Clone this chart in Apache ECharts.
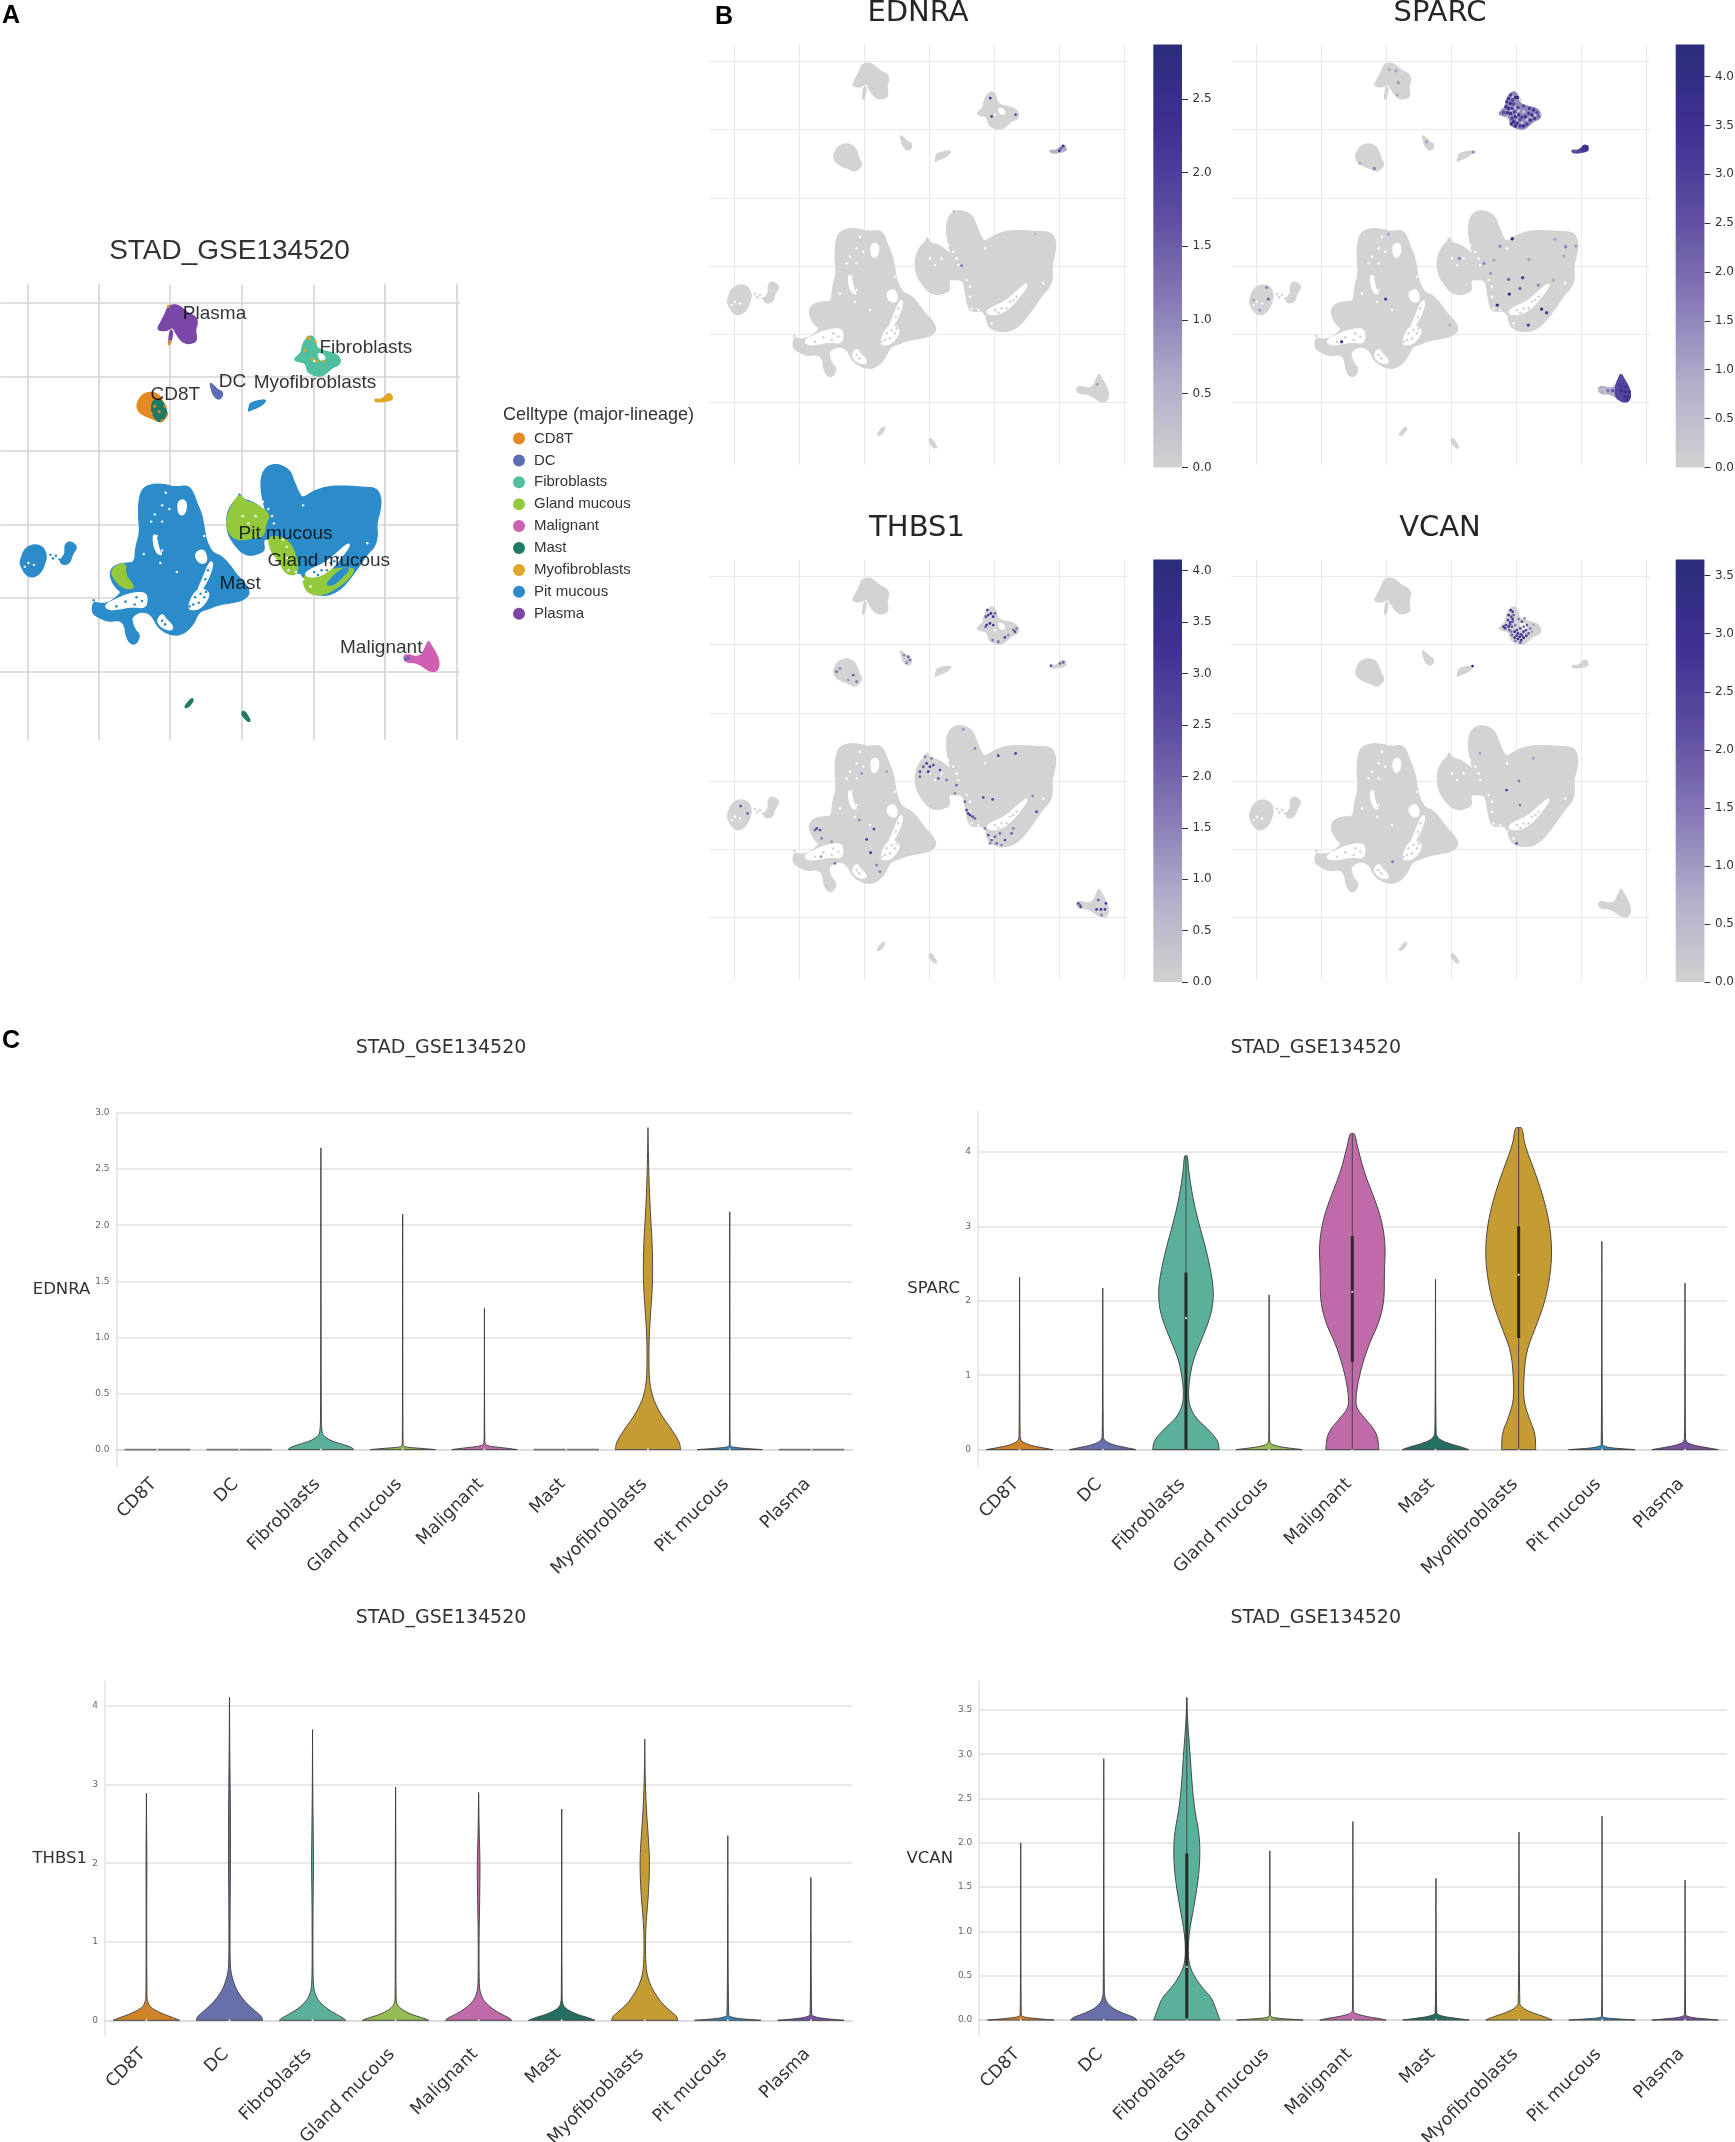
<!DOCTYPE html>
<html>
<head>
<meta charset="utf-8">
<title>STAD_GSE134520</title>
<script src="https://cdn.jsdelivr.net/npm/echarts@6/dist/echarts.min.js"></script>
<style>
html,body{margin:0;padding:0;background:#fff}
#chart{width:1735px;height:2142px}
</style>
</head>
<body>
<div id="chart"></div>
<script>
const celltypes = ['CD8T','DC','Fibroblasts','Gland mucous','Malignant','Mast','Myofibroblasts','Pit mucous','Plasma'];
const umapColors = ['#e58a22','#5e6db3','#4fbf9f','#94c83d','#cf5fb0','#1f7a65','#e0a526','#2b8cc9','#7a47a8'];
const violinColors = ['#d08328','#6870ab','#5bb09b','#97bb55','#bf6aa9','#256f62','#c59c33','#3589bd','#7a52a0'];

// umap outlines, in umap reading units (gridlines below)
const umapXGrid = [103,298,492,688,883,1078,1273];
const umapYGrid = [184,389,594,798,1001,1207];
const plasmaShape = [[487,192],[508,188],[525,198],[540,212],[562,222],[567,240],[560,258],[565,285],[555,295],[535,297],[518,285],[505,262],[498,250],[480,262],[455,258],[468,235],[478,215]];
const plasmaTail = [[492,258],[499,262],[496,285],[491,298],[487,295]];
const fibroShape = [[865,280],[877,274],[888,285],[892,310],[915,318],[935,322],[950,330],[958,345],[950,358],[935,362],[922,375],[905,388],[885,385],[866,375],[862,350],[845,347],[830,342],[838,332],[850,322],[853,300]];
const dcShape = [[600,405],[610,412],[622,425],[635,430],[634,445],[622,452],[610,440],[605,425]];
const blobShape = [[710,462],[730,455],[755,452],[745,465],[728,475],[712,480],[705,485],[708,472]];
const myofibShape = [[1050,450],[1065,452],[1078,445],[1085,435],[1095,437],[1100,450],[1088,455],[1070,458],[1052,458]];
const cd8Shape = [[415,438],[440,430],[462,438],[473,460],[478,480],[487,490],[478,505],[465,515],[445,505],[425,498],[405,485],[400,465]];
const leftBody = [[420,695],[450,685],[480,688],[505,695],[540,690],[555,710],[565,740],[578,770],[585,810],[590,840],[603,870],[615,880],[630,885],[650,905],[675,940],[700,965],[710,990],[690,1008],[660,1015],[625,1020],[595,1032],[570,1040],[555,1075],[530,1100],[505,1106],[480,1098],[458,1082],[445,1055],[430,1042],[410,1040],[395,1048],[385,1060],[395,1090],[410,1105],[400,1128],[385,1130],[372,1110],[368,1075],[350,1062],[325,1068],[295,1055],[278,1042],[282,1012],[300,1018],[325,1015],[345,1000],[360,985],[345,975],[330,950],[328,925],[345,910],[370,905],[395,905],[398,860],[410,820],[405,770],[408,720]];
const rightBody = [[680,710],[690,728],[715,735],[735,748],[755,765],[748,745],[738,690],[745,650],[765,632],[795,633],[820,650],[830,680],[845,715],[855,725],[885,705],[925,692],[980,692],[1020,695],[1055,697],[1068,725],[1065,760],[1055,795],[1058,830],[1050,860],[1030,880],[1010,910],[985,945],[960,975],[930,993],[900,995],[870,985],[860,960],[850,930],[820,935],[805,925],[795,870],[790,840],[760,838],[745,840],[750,870],[735,878],[710,885],[685,875],[665,850],[650,825],[645,790],[650,760],[665,735],[678,725]];
const islandShape = [[95,865],[120,853],[145,860],[155,885],[150,905],[140,930],[120,945],[100,940],[85,915],[82,900]];
const isletShape = [[205,855],[215,845],[228,850],[238,862],[225,880],[218,905],[200,910],[190,900],[205,880],[205,870]];
const malignantShape = [[1190,1135],[1197,1120],[1205,1135],[1220,1160],[1227,1185],[1220,1205],[1200,1205],[1180,1190],[1160,1180],[1135,1180],[1128,1165],[1140,1158],[1160,1165],[1180,1160]];
const malignantCore = [[1190,1135],[1197,1120],[1205,1135],[1220,1160],[1227,1185],[1220,1205],[1200,1205],[1180,1190],[1180,1160]];
const sliverA = [[530,1305],[545,1285],[553,1280],[555,1288],[540,1306]];
const sliverB = [[687,1318],[695,1315],[712,1342],[705,1345],[690,1330]];

const glandLobe = [[682,713],[692,732],[728,742],[765,770],[753,794],[747,832],[710,837],[674,842],[649,818],[645,785],[661,742]];
const glandStrip = [[759,828],[808,837],[832,871],[844,937],[808,937],[789,899],[765,871]];
const glandCrescent = [[856,942],[881,928],[978,918],[997,923],[972,956],[929,985],[899,995],[869,988],[856,966]];
const glandLeft = [[328,928],[350,909],[371,907],[369,937],[387,961],[393,975],[369,976],[347,960]];
const pitStreak = [[917,966],[936,942],[966,918],[984,919],[954,952],[936,966]];
const mastPatch = [[448,450],[472,455],[485,488],[466,517],[448,502],[439,474]];

const holes = [
  [[512,735],[530,728],[538,745],[530,772],[515,770]],
  [[558,880],[580,865],[592,885],[590,905],[570,905]],
  [[445,830],[452,825],[462,870],[470,882],[458,880],[448,860]],
  [[312,1022],[345,1005],[380,990],[420,985],[430,1000],[425,1030],[390,1025],[355,1032],[325,1035]],
  [[540,1030],[555,990],[575,975],[598,985],[595,1005],[575,1030],[555,1035]],
  [[600,900],[610,905],[598,945],[575,985],[565,985],[580,950]],
  [[455,1065],[470,1045],[480,1060],[500,1080],[495,1092],[470,1085]],
  [[858,935],[880,920],[915,905],[950,875],[978,850],[982,858],[958,890],[935,918],[905,940],[872,945]],
  [[895,322],[912,328],[915,342],[900,342]]
];
const whiteSpecks = [[470,745],[490,755],[450,770],[480,710],[455,830],[470,870],[420,880],[690,775],[705,795],[725,775],[745,735],[760,755],[770,775],[775,795],[855,745],[800,840],[810,860],[815,925],[120,910],[95,915],[105,905],[885,345],[475,1060],[490,1075],[600,930],[470,790],[810,890],[835,930],[855,950],[875,970],[1030,850],[760,860],[650,850],[680,880],[420,1020],[400,1010],[465,905],[510,930],[585,830],[440,790]];
const fillSpecks = [[165,882],[172,892],[180,885],[190,895],[200,905],[283,1008],[885,930],[905,925],[930,905],[950,890],[920,925],[895,938],[940,900],[560,1000],[575,990],[585,1000],[570,1015],[555,1020],[590,985],[545,1025],[400,1000],[395,1020],[370,1012],[345,1025],[415,1010],[478,1075],[470,1065],[588,950],[595,925]];

// extra marks only seen in the cell type view
const orangeOnFibro = [[868,278],[887,290],[880,340],[911,345],[860,315],[872,283],[892,345]];
const orangeOnPlasma = [[487,192],[491,290],[489,298]];
const orangeOnMast = [[450,470],[462,485],[470,510],[440,490],[478,470]];
const dcOnMalignant = [[1142,1168],[1135,1172]];

// cell type labels on panel A
const clusterLabels = [['Plasma',613,214],['Fibroblasts',1026,308],['DC',662,403],['Myofibroblasts',887,406],['CD8T',506,439],['Pit mucous',807,823],['Gland mucous',925,900],['Mast',683,963],['Malignant',1068,1141]];

// gene expression dots: x, y, value
const ednraDots = [[871,294,2.5],[875,349,2],[947,344,1.7],[1090,438,2.6],[1078,452,2.4],[1084,445,1.5],[785,797,1.2],[1192,1153,.8],[1060,454,.5],[1095,448,.7],[1070,455,.4],[1006,702,.4],[762,634,.3]];
const sparcDots = [[529,248,1.2],[502,208,.8],[522,212,1],[526,285,.8],[457,505,1.5],[414,490,.8],[614,425,1],[754,456,1.5],[499,702,1],[871,716,4],[834,738,1.5],[999,718,1],[1031,740,1.5],[1062,738,1.2],[1026,768,1],[921,778,1],[712,775,1.5],[786,790,1.5],[816,780,1],[806,820,1.2],[860,838,2],[902,833,3],[949,855,1.5],[894,865,2],[862,882,4],[826,915,4],[959,927,4],[974,938,3],[919,975,3],[491,897,3],[684,975,.8],[359,1025,3],[134,862,1.5],[139,897,2],[94,900,1],[114,930,1],[994,840,1],
  [880,292,4.2],[887,292,4.2],[866,285,3],[860,295,3.4],[872,300,3],[855,305,3.2],[865,310,3.6],[875,312,2.8],[852,320,3.4],[860,325,3.8],[870,325,3],[845,337,2.6],[856,338,3.4],[866,340,3.6],[878,335,2.8],[888,322,3],[905,318,2.6],[922,325,3.2],[935,330,3.4],[945,338,2.8],[950,348,2.4],[930,345,3.6],[920,340,3],[938,355,3.2],[925,360,3.8],[910,350,3.6],[900,352,3],[890,345,3.4],[880,350,3.8],[870,355,3],[875,365,4],[885,370,3.6],[895,378,3.2],[905,378,3.6],[915,372,3],[868,372,3.8],[880,378,4],[893,360,2.6],
  [1087,442,3.6],[1093,447,3.8],[1082,450,3.4],[1095,440,3.6],[1072,453,2.8],[1060,454,2.4],
  [1200,1135,2.6],[1205,1148,3],[1198,1158,3.2],[1212,1160,3.6],[1222,1175,3.8],[1210,1175,3.4],[1198,1172,3.6],[1218,1190,4],[1208,1190,3.8],[1214,1200,3.6],[1188,1170,2.8],[1172,1172,2.4],[1158,1172,1.8]];
const sparcLightDots = [[872,290,.2],[895,300,.1],[868,330,.2],[880,322,.3],[890,332,.2],[905,335,.1],[925,352,.2],[915,358,.3],[888,360,.2],[900,368,.2],[940,345,.2],[955,345,.2],[855,350,.2],[1145,1168,.3],[1150,1175,.2],[1135,1170,.4]];
const thbs1Dots = [[862,285,3],[873,295,3.5],[880,305,3.2],[858,305,2.5],[870,325,3.5],[880,330,3],[860,330,3],[865,300,2.8],[885,295,2],[857,335,2],[945,350,2.5],[940,345,2],[915,367,2.8],[895,380,2],[878,375,1.8],[925,360,1.5],[950,340,1.5],[612,420,1.5],[625,425,2.2],[630,435,2],[620,443,1.5],[1053,452,2],[1080,445,2],[1090,442,2.2],[410,470,2],[420,460,1.5],[460,480,2.2],[470,500,1.8],[445,495,1.2],[680,745,2.8],[690,755,3],[670,755,2.2],[660,770,2.5],[685,770,3.2],[700,750,2.8],[720,765,2.5],[715,790,2.2],[740,795,1.8],[770,810,2],[765,835,1.5],[660,785,2],[675,725,1.6],[695,730,1.6],[800,885,2.8],[810,900,3],[818,905,2.6],[805,895,3],[825,910,2],[795,860,2],[850,847,2.5],[878,853,2.5],[895,722,2.6],[947,715,3],[825,700,1.5],[790,643,1.2],[998,843,1.5],[1010,890,2.5],[865,960,2.4],[875,975,2.2],[885,965,2],[900,955,1.8],[915,975,2.4],[935,955,2],[940,940,1.6],[870,985,1.6],[890,985,2],[855,940,1.5],[905,990,1.4],[350,940,2.6],[345,945,2],[360,945,2.4],[365,970,1.5],[405,1045,2],[522,942,3],[500,973,3],[512,1013,3.2],[478,915,1.5],[530,1050,1.6],[540,1070,1.5],[395,980,1.2],[363,1025,1.2],[485,775,1.2],[560,770,1],[122,873,2.4],[143,895,2],[1135,1165,2.6],[1142,1175,2.8],[1195,1155,2.2],[1218,1165,3],[1190,1183,3],[1203,1183,3.2],[1215,1183,3],[1205,1200,1.5],[1140,1170,2]];
const vcanDots = [[866,285,3],[872,290,2.5],[860,300,3],[868,305,2.2],[875,300,1.8],[858,315,2.6],[865,322,3],[872,320,2],[852,330,2.4],[845,335,2.8],[860,335,3],[870,335,2],[880,330,1.5],[890,312,1.5],[900,320,2],[908,310,1.2],[885,345,2.5],[895,340,2.2],[905,335,1.6],[915,330,2],[925,340,1.5],[878,350,3],[888,355,3.2],[898,358,3],[905,350,2.6],[912,345,2.4],[870,360,2],[878,368,3],[888,372,3.2],[898,375,3],[905,368,3.4],[913,362,2.8],[920,355,2],[884,362,2.5],[893,365,2.8],[900,362,2],[880,378,1.5],[895,382,2],[935,330,.8],[930,350,.8],[850,340,2.5],[862,345,2],[868,350,1.5],[872,312,2.8],[864,328,2.3],[752,453,3],[854,825,2.5],[891,798,1.5],[894,870,1.5],[884,985,2],[512,1040,1.5],[774,715,1],[934,730,1]];

const colormap = ['#d1d1d1','#b3adca','#8678b6','#5d4ca0','#3f3092','#2b2d7b'];

// violin profiles: value, half width as a share of the category band
const ednraProfiles = [
  [[0,.4],[.001,0]],
  [[0,.4],[.001,0]],
  [[0,.4],[.02,.38],[.05,.25],[.08,.12],[.12,.035],[.16,.01],[.3,.003],[2.69,0]],
  [[0,.4],[.01,.25],[.02,.06],[.03,.01],[.06,.002],[2.1,0]],
  [[0,.4],[.015,.25],[.03,.05],[.05,.01],[.08,.002],[1.26,0]],
  [[0,.4],[.001,0]],
  [[0,.4],[.05,.39],[.1,.36],[.2,.27],[.3,.17],[.4,.095],[.5,.045],[.6,.022],[.7,.012],[1,.012],[1.3,.04],[1.5,.058],[1.8,.055],[2.1,.03],[2.4,.012],[2.7,.003],[2.87,0]],
  [[0,.4],[.01,.2],[.02,.05],[.03,.008],[.06,.002],[2.12,0]],
  [[0,.4],[.001,0]]
];
const sparcProfiles = [
  [[0,.4],[.03,.25],[.06,.12],[.1,.04],[.13,.012],[.2,.004],[2.32,0]],
  [[0,.4],[.03,.27],[.06,.14],[.1,.05],[.14,.012],[.2,.004],[2.17,0]],
  [[0,.4],[.12,.385],[.26,.28],[.41,.13],[.55,.055],[.7,.027],[.94,.04],[1.22,.09],[1.51,.2],[1.8,.3],[2.04,.333],[2.28,.32],[2.66,.25],[3,.165],[3.34,.09],[3.72,.035],[3.95,.02],[3.95,0]],
  [[0,.4],[.02,.25],[.04,.12],[.07,.03],[.1,.008],[.2,.002],[2.08,0]],
  [[0,.32],[.22,.3],[.41,.16],[.55,.053],[.7,.04],[1.03,.09],[1.42,.2],[1.7,.32],[2,.385],[2.38,.385],[2.76,.4],[3.1,.35],[3.38,.265],[3.72,.145],[4.06,.065],[4.25,.03],[4.25,0]],
  [[0,.4],[.03,.33],[.07,.2],[.12,.07],[.18,.015],[.25,.004],[2.29,0]],
  [[0,.205],[.22,.2],[.41,.13],[.65,.06],[.94,.06],[1.32,.09],[1.66,.21],[2,.32],[2.38,.385],[2.71,.4],[3.05,.37],[3.38,.3],[3.72,.2],[4.1,.07],[4.33,.045],[4.33,0]],
  [[0,.4],[.01,.27],[.025,.1],[.05,.015],[.08,.004],[2.8,0]],
  [[0,.4],[.025,.27],[.05,.14],[.085,.04],[.12,.01],[.2,.003],[2.24,0]]
];
const thbs1Profiles = [
  [[0,.4],[.03,.33],[.08,.2],[.13,.1],[.18,.035],[.25,.012],[.3,.005],[1.5,.003],[2,.006],[2.5,.002],[2.89,0]],
  [[0,.4],[.05,.385],[.1,.33],[.2,.22],[.3,.14],[.4,.08],[.5,.045],[.6,.02],[.7,.01],[.9,.006],[1.5,.008],[2,.012],[2.5,.012],[3,.008],[3.5,.003],[4.11,0]],
  [[0,.4],[.03,.37],[.08,.28],[.15,.17],[.25,.07],[.35,.025],[.45,.01],[.7,.004],[1.5,.006],[2,.013],[2.4,.008],[3,.002],[3.7,0]],
  [[0,.4],[.03,.33],[.07,.2],[.12,.1],[.17,.04],[.22,.012],[.3,.004],[1.5,.004],[2.5,.002],[2.97,0]],
  [[0,.4],[.03,.37],[.08,.27],[.15,.16],[.25,.06],[.35,.02],[.45,.006],[1,.004],[1.5,.012],[2,.018],[2.4,.006],[2.9,0]],
  [[0,.4],[.03,.33],[.07,.2],[.12,.09],[.17,.03],[.22,.01],[.3,.003],[2.69,0]],
  [[0,.4],[.05,.385],[.1,.33],[.2,.22],[.3,.15],[.4,.09],[.5,.05],[.6,.025],[.7,.015],[.9,.008],[1.2,.012],[1.6,.045],[2,.06],[2.3,.045],[2.7,.018],[3.1,.005],[3.4,.001],[3.58,0]],
  [[0,.4],[.01,.26],[.025,.1],[.05,.02],[.07,.005],[2.35,0]],
  [[0,.4],[.012,.26],[.03,.1],[.055,.02],[.08,.005],[1.82,0]]
];
const vcanProfiles = [
  [[0,.4],[.01,.27],[.025,.1],[.04,.015],[.07,.003],[2,0]],
  [[0,.4],[.03,.37],[.07,.25],[.12,.13],[.18,.05],[.25,.012],[.35,.004],[2.95,0]],
  [[0,.4],[.05,.38],[.1,.36],[.25,.3],[.35,.2],[.45,.12],[.55,.06],[.65,.025],[.8,.015],[1,.03],[1.3,.09],[1.6,.14],[1.85,.16],[2.1,.15],[2.4,.09],[2.7,.06],[3,.04],[3.3,.015],[3.5,.004],[3.64,0]],
  [[0,.4],[.01,.25],[.02,.09],[.035,.015],[.06,.003],[1.91,0]],
  [[0,.4],[.02,.3],[.04,.16],[.07,.04],[.09,.01],[.14,.003],[2.24,0]],
  [[0,.4],[.015,.28],[.035,.12],[.06,.02],[.09,.004],[1.6,0]],
  [[0,.4],[.03,.33],[.07,.2],[.11,.09],[.16,.02],[.2,.005],[2.12,0]],
  [[0,.4],[.01,.24],[.02,.08],[.03,.012],[.05,.002],[2.3,0]],
  [[0,.4],[.012,.26],[.025,.1],[.045,.015],[.07,.003],[1.58,0]]
];
// category index, q1, median, q3
const sparcBoxes = [[2,0,1.77,2.38],[4,1.18,2.12,2.87],[6,1.5,2.35,3]];
const vcanBoxes = [[2,.02,.6,1.88]];

const ednraTicks = [0,.5,1,1.5,2,2.5,3];
const sparcTicks = [0,1,2,3,4];
const thbs1Ticks = [0,1,2,3,4];
const vcanTicks = [0,.5,1,1.5,2,2.5,3,3.5];
const ednraBarTicks = [0,.5,1,1.5,2,2.5];
const sparcBarTicks = [0,.5,1,1.5,2,2.5,3,3.5,4];
const thbs1BarTicks = [0,.5,1,1.5,2,2.5,3,3.5,4];
const vcanBarTicks = [0,.5,1,1.5,2,2.5,3,3.5];

const sansFont = '"DejaVu Sans"';
const arialFont = '"Liberation Sans"';
const umapWindow = {xMin:28, xMax:1283, yMin:133, yMax:1395};

var grids = [], xAxes = [], yAxes = [], series = [], titles = [];

// round off corners when drawing, the marks stay on the read values
function cutCorners(pts, closed){
  let out = pts;
  for(let k=0;k<2;k++){
    const next = closed ? [] : [out[0]];
    const n = out.length, last = closed ? n : n-1;
    for(let i=0;i<last;i++){
      const a = out[i], b = out[(i+1)%n];
      next.push([a[0]*.75+b[0]*.25, a[1]*.75+b[1]*.25]);
      next.push([a[0]*.25+b[0]*.75, a[1]*.25+b[1]*.75]);
    }
    if(!closed) next.push(out[n-1]);
    out = next;
  }
  return out;
}

function addGrid(left, top, width, height){
  // labels of the last row run off the page in the reference too, so keep the grid size
  grids.push({left, top, width, height, outerBoundsMode:'none'});
  return grids.length-1;
}

function addUmapGrid(left, top, width, height, lineColor, lineWidth){
  const g = addGrid(left, top, width, height);
  const split = {show:true, lineStyle:{color:lineColor, width:lineWidth}};
  xAxes.push({gridIndex:g, type:'value', min:umapWindow.xMin, max:umapWindow.xMax,
    axisLine:{show:false}, axisLabel:{show:false}, axisTick:{show:false, customValues:umapXGrid}, splitLine:split});
  yAxes.push({gridIndex:g, type:'value', inverse:true, min:umapWindow.yMin, max:umapWindow.yMax,
    axisLine:{show:false}, axisLabel:{show:false}, axisTick:{show:false, customValues:umapYGrid}, splitLine:split});
  return g;
}

function polygonSeries(g, name, shapes, color, z){
  return {
    type:'custom', name, xAxisIndex:g, yAxisIndex:g, silent:true, z:z||2,
    itemStyle:{color},
    data:shapes.map((s,i)=>[i]),
    renderItem(params, api){
      const pts = shapes[api.value(0)].map(p=>api.coord(p));
      return {type:'polygon', shape:{points:cutCorners(pts,true)}, style:{fill:color, stroke:color, lineWidth:1.4}};
    }
  };
}

function dotSeries(g, dots, colorOf, size, z){
  return {
    type:'scatter', xAxisIndex:g, yAxisIndex:g, silent:true, z:z||4, symbolSize:size,
    data:dots, itemStyle:{color:colorOf, opacity:1}
  };
}

// panel A
const allShapes = [plasmaShape,plasmaTail,fibroShape,dcShape,blobShape,myofibShape,cd8Shape,leftBody,rightBody,islandShape,isletShape,malignantShape,sliverA,sliverB];
const gA = addUmapGrid(0.2, 284.6, 459.8, 455.2, '#d4d4d4', 1.6);
const pickColor = n => umapColors[celltypes.indexOf(n)];
series.push(polygonSeries(gA,'Pit mucous',[leftBody,rightBody,islandShape,isletShape,blobShape],pickColor('Pit mucous'),2));
series.push(polygonSeries(gA,'Gland mucous',[glandLobe,glandStrip,glandCrescent,glandLeft],pickColor('Gland mucous'),3));
series.push(polygonSeries(gA,'streak',[pitStreak],pickColor('Pit mucous'),3));
series.push(polygonSeries(gA,'Plasma',[plasmaShape,plasmaTail],pickColor('Plasma'),3));
series.push(polygonSeries(gA,'Fibroblasts',[fibroShape],pickColor('Fibroblasts'),3));
series.push(polygonSeries(gA,'DC',[dcShape],pickColor('DC'),3));
series.push(polygonSeries(gA,'Myofibroblasts',[myofibShape],pickColor('Myofibroblasts'),3));
series.push(polygonSeries(gA,'CD8T',[cd8Shape],pickColor('CD8T'),3));
series.push(polygonSeries(gA,'Mast',[mastPatch,sliverA,sliverB],pickColor('Mast'),3));
series.push(polygonSeries(gA,'Malignant',[malignantShape],pickColor('Malignant'),3));
series.push(polygonSeries(gA,'holes',holes,'#ffffff',4));
series.push(dotSeries(gA,whiteSpecks,'#ffffff',2.4,5));
series.push(dotSeries(gA,fillSpecks,pickColor('Pit mucous'),2.6,5));
series.push(dotSeries(gA,orangeOnFibro.concat(orangeOnPlasma),pickColor('Myofibroblasts'),3,6));
series.push(dotSeries(gA,orangeOnMast,pickColor('CD8T'),3,6));
series.push(dotSeries(gA,dcOnMalignant,pickColor('DC'),3.5,6));
series.push({
  type:'scatter', xAxisIndex:gA, yAxisIndex:gA, silent:true, z:8, symbolSize:0,
  data:clusterLabels.map(l=>({value:[l[1],l[2]], name:l[0]})),
  label:{show:true, position:'inside', formatter:'{b}', color:'#000', fontFamily:arialFont, fontSize:19}
});

// panel B
function addFeaturePanel(gene, left, top, barLeft, dots, maxValue, barTicks, patches, extraDots, titleX, titleY){
  const g = addUmapGrid(left, top, 418.3, 420.7, '#e9e9e9', 1);
  const colorOf = v => echarts.color.lerp(Math.min(v/maxValue,1), colormap);
  series.push(polygonSeries(g,gene+' cells',allShapes,'#d2d4d4',2));
  series.push(polygonSeries(g,gene+' holes',holes,'#ffffff',3));
  series.push(dotSeries(g,whiteSpecks,'#ffffff',2.4,3));
  series.push(dotSeries(g,fillSpecks,'#d2d4d4',2.6,3));
  patches.forEach(p=>series.push(polygonSeries(g,gene+' patch',[p[0]],colorOf(p[1]),3)));
  if(extraDots) series.push(dotSeries(g,extraDots,p=>colorOf(p.value[2]),3,4));
  series.push(dotSeries(g,dots,p=>colorOf(p.value[2]),gene==='SPARC'?3.4:2.8,5));

  const b = addGrid(barLeft, top, 28.7, gene==='EDNRA'||gene==='SPARC'?423:422.7);
  xAxes.push({gridIndex:b, type:'category', data:[gene], show:false});
  yAxes.push({gridIndex:b, type:'value', position:'right', min:0, max:maxValue,
    axisLine:{show:false}, splitLine:{show:false},
    axisTick:{show:true, length:6, lineStyle:{color:'#333', width:1}, customValues:barTicks},
    axisLabel:{show:true, customValues:barTicks, margin:10.5, color:'#333', fontFamily:sansFont, fontSize:12, formatter:v=>v.toFixed(1)}});
  series.push({type:'bar', xAxisIndex:b, yAxisIndex:b, silent:true, barWidth:'100%', data:[maxValue],
    itemStyle:{color:new echarts.graphic.LinearGradient(0,0,0,1,[
      {offset:0,color:colormap[5]},{offset:.2,color:colormap[4]},{offset:.4,color:colormap[3]},
      {offset:.6,color:colormap[2]},{offset:.8,color:colormap[1]},{offset:1,color:colormap[0]}])}});
  titles.push({text:gene, left:titleX, top:titleY, padding:0, textAlign:'center', textVerticalAlign:'middle',
    textStyle:{fontFamily:sansFont, fontSize:29, fontWeight:'normal', color:'#262626'}});
}
addFeaturePanel('EDNRA',709.3,44.4,1153.3,ednraDots,2.87,ednraBarTicks,[[myofibShape,.5]],null,918,13);
addFeaturePanel('SPARC',1231.3,44.4,1675.7,sparcDots,4.33,sparcBarTicks,[[fibroShape,1.5],[myofibShape,3],[malignantShape,.9],[malignantCore,2.8]],sparcLightDots,1440,13);
addFeaturePanel('THBS1',709.3,559.4,1153.3,thbs1Dots,4.11,thbs1BarTicks,[],null,917,528);
addFeaturePanel('VCAN',1231.3,559.4,1675.7,vcanDots,3.64,vcanBarTicks,[],null,1440,528);

// panel C
function addViolinPanel(gene, left, top, width, height, yMin, yMax, ticks, decimals, profiles, boxes, nameGap, titleX, titleY){
  const g = addGrid(left, top, width, height);
  const line = {show:true, lineStyle:{color:'#dddddd', width:2}};
  xAxes.push({gridIndex:g, type:'category', data:celltypes, axisLine:line, axisTick:{show:false},
    axisLabel:{rotate:45, interval:0, margin:12, padding:[0,5,0,0], color:'#333', fontFamily:sansFont, fontSize:17.5}});
  yAxes.push({gridIndex:g, type:'value', min:yMin, max:yMax, name:gene, nameLocation:'middle', nameRotate:0, nameGap,
    nameTextStyle:{color:'#333', fontFamily:sansFont, fontSize:16.5},
    axisLine:{show:true, lineStyle:{color:'#e2e2e2', width:1.5}},
    axisTick:{show:false, customValues:ticks},
    axisLabel:{show:true, customValues:ticks, margin:7, color:'#666', fontFamily:sansFont, fontSize:9, formatter:v=>v.toFixed(decimals)},
    splitLine:{show:true, lineStyle:{color:'#e2e2e2', width:1.6}}});
  series.push({
    type:'custom', name:gene+' violins', xAxisIndex:g, yAxisIndex:g, silent:true, z:4,
    data:celltypes.map((c,i)=>[i]),
    renderItem(params, api){
      const i = api.value(0), band = api.size([1,0])[0], prof = profiles[i];
      const right = prof.map(p=>{const c = api.coord([i,p[0]]); return [c[0]+p[1]*band, c[1]];});
      const leftSide = prof.map(p=>{const c = api.coord([i,p[0]]); return [c[0]-p[1]*band, c[1]];});
      const flat = prof.length === 2;
      const pts = cutCorners(right,false).concat(cutCorners(leftSide,false).reverse());
      const children = [{type:'polygon', shape:{points:pts},
        style:{fill:violinColors[i], stroke:flat?'#7a7a7a':'#3c3c3c', lineWidth:flat?1.6:.9}}];
      const mid = api.coord([i,0]);
      children.push({type:'circle', shape:{cx:mid[0], cy:mid[1], r:1}, style:{fill:'#e8e8e8'}});
      const box = boxes.find(b=>b[0]===i);
      if(box){
        const top = api.coord([i,prof[prof.length-1][0]]), q1 = api.coord([i,box[1]]), med = api.coord([i,box[2]]), q3 = api.coord([i,box[3]]);
        children.push({type:'line', shape:{x1:mid[0], y1:mid[1], x2:top[0], y2:top[1]}, style:{stroke:'#3c3c3c', lineWidth:.9}});
        children.push({type:'line', shape:{x1:q1[0], y1:q1[1], x2:q3[0], y2:q3[1]}, style:{stroke:'#2a2a2a', lineWidth:3}});
        children.push({type:'circle', shape:{cx:med[0], cy:med[1], r:1.2}, style:{fill:'#bbbbbb'}});
      }
      return {type:'group', children};
    }
  });
  titles.push({text:'STAD_GSE134520', left:titleX, top:titleY, padding:0, textAlign:'center', textVerticalAlign:'middle',
    textStyle:{fontFamily:sansFont, fontSize:19, fontWeight:'normal', color:'#333'}});
}
addViolinPanel('EDNRA',116.5,1113,735.9,353,-.146,3,ednraTicks,1,ednraProfiles,[],26,441,1048);
addViolinPanel('SPARC',978,1111.4,748.6,354.6,-.22,4.546,sparcTicks,0,sparcProfiles,sparcBoxes,18,1315.7,1048);
addViolinPanel('THBS1',104.9,1681.2,747.5,354.8,-.2,4.316,thbs1Ticks,0,thbs1Profiles,[],18,441,1618);
addViolinPanel('VCAN',979.2,1681.2,747.4,354.8,-.18,3.824,vcanTicks,1,vcanProfiles,vcanBoxes,26,1315.7,1618);

const letterStyle = {fontFamily:arialFont, fontSize:25, fontWeight:'bold', color:'#000'};
titles.push({text:'A', left:11, top:16, padding:0, textAlign:'center', textVerticalAlign:'middle', textStyle:letterStyle});
titles.push({text:'B', left:724, top:17, padding:0, textAlign:'center', textVerticalAlign:'middle', textStyle:letterStyle});
titles.push({text:'C', left:11, top:1041, padding:0, textAlign:'center', textVerticalAlign:'middle', textStyle:letterStyle});
titles.push({text:'STAD_GSE134520', left:229.5, top:251, padding:0, textAlign:'center', textVerticalAlign:'middle',
  textStyle:{fontFamily:arialFont, fontSize:28, fontWeight:'normal', color:'#333'}});
titles.push({text:'Celltype (major-lineage)', left:503, top:415, padding:0, textVerticalAlign:'middle',
  textStyle:{fontFamily:arialFont, fontSize:18, fontWeight:'normal', color:'#333'}});

var chart = echarts.init(document.getElementById('chart'), null, {renderer:'canvas'});
chart.setOption({
  backgroundColor:'#ffffff',
  animation:false,
  title:titles,
  legend:{
    data:celltypes, orient:'vertical', left:513, top:431, padding:0, icon:'circle', itemWidth:12, itemHeight:12, itemGap:6.9,
    selectedMode:false, textStyle:{fontFamily:arialFont, fontSize:15, color:'#333', padding:[0,0,0,4]}
  },
  grid:grids,
  xAxis:xAxes,
  yAxis:yAxes,
  series:series
});
</script>
</body>
</html>
